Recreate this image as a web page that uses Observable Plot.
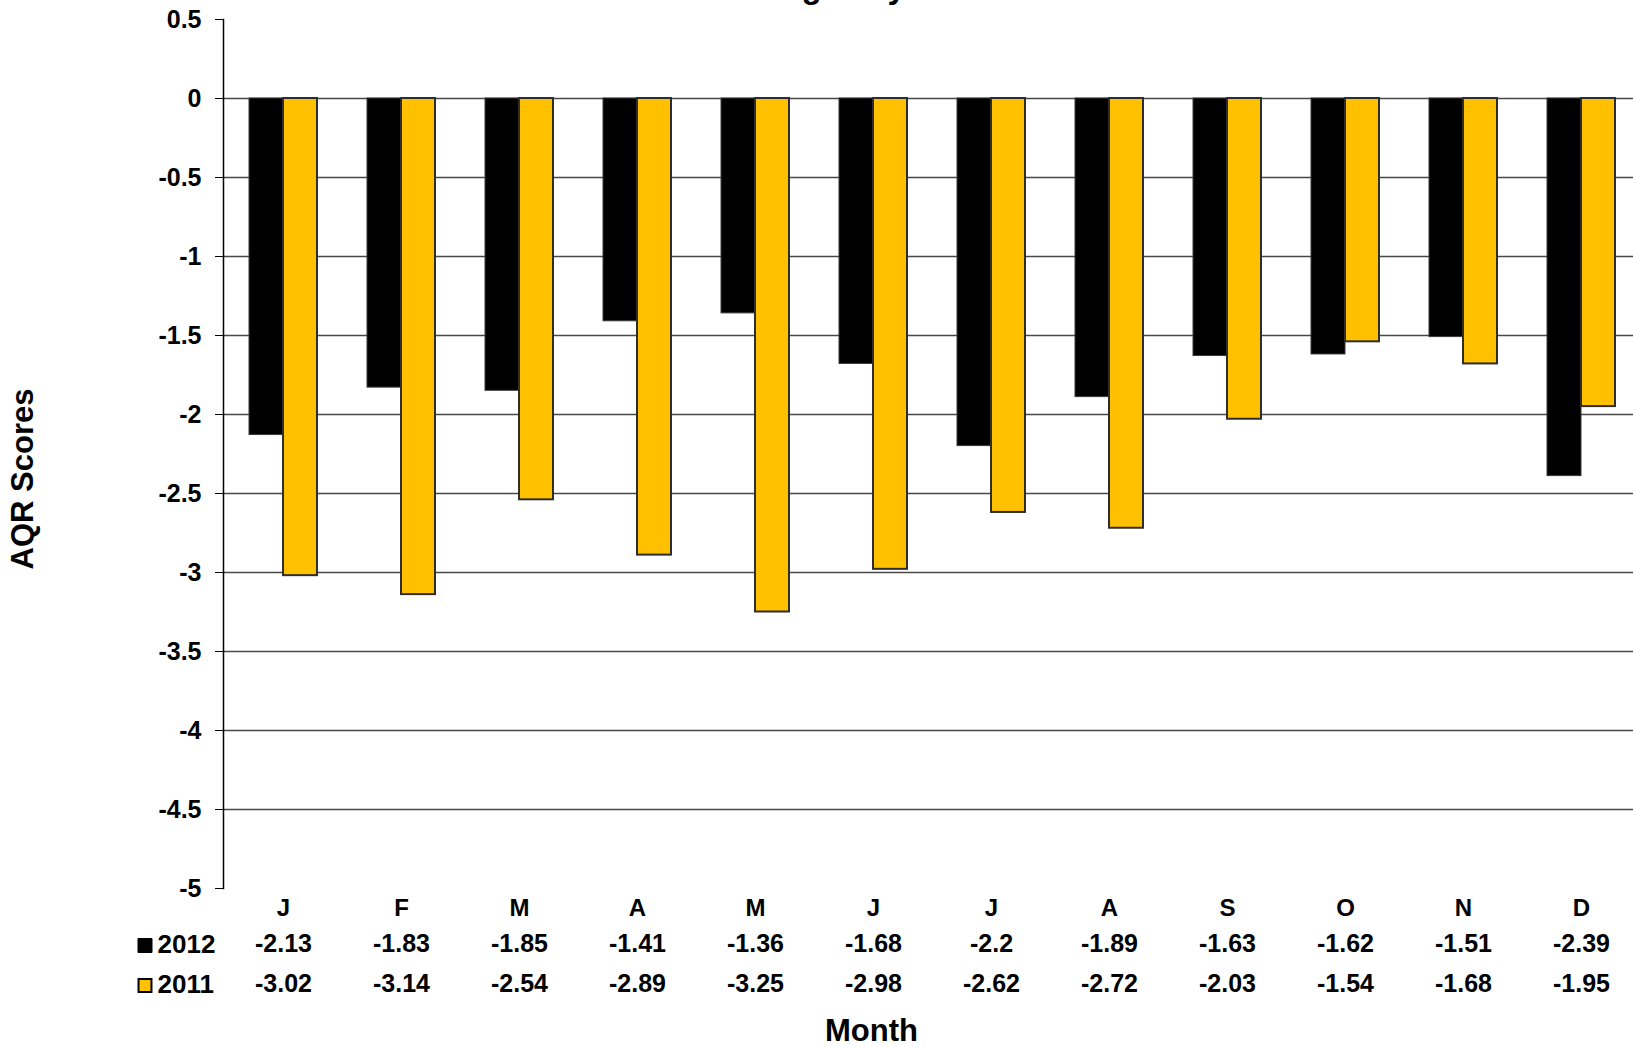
<!DOCTYPE html>
<html>
<head>
<meta charset="utf-8">
<script src="https://cdn.jsdelivr.net/npm/d3@7"></script>
<script src="https://cdn.jsdelivr.net/npm/@observablehq/plot@0.6"></script>
<style>
  html, body { margin: 0; padding: 0; background: #fff; overflow: hidden; }
  #chart { width: 1633px; height: 1047px; }
</style>
</head>
<body>
<div id="chart"></div>
<script>
// Monthly AQR scores, 2012 vs 2011
const months = ["J", "F", "M", "A", "M", "J", "J", "A", "S", "O", "N", "D"];
const scores2012 = [-2.13, -1.83, -1.85, -1.41, -1.36, -1.68, -2.2, -1.89, -1.63, -1.62, -1.51, -2.39];
const scores2011 = [-3.02, -3.14, -2.54, -2.89, -3.25, -2.98, -2.62, -2.72, -2.03, -1.54, -1.68, -1.95];
const seriesNames = ["2012", "2011"];
const yTicks = [0.5, 0, -0.5, -1, -1.5, -2, -2.5, -3, -3.5, -4, -4.5, -5];
const gridValues = [0, -0.5, -1, -1.5, -2, -2.5, -3, -3.5, -4, -4.5];
const titleText = "Changes by Month";
const yLabel = "AQR Scores";
const xLabel = "Month";

const color2012 = "#000000";
const color2011 = "#FFC000";
const outline = "#2e2e2e";

const idx = months.map((_, i) => i);

const chart = Plot.plot({
  width: 1633,
  height: 1047,
  marginTop: 19,
  marginBottom: 159,
  marginLeft: 223,
  marginRight: 0,
  style: "font: bold 25px 'Liberation Sans', Arial, sans-serif; color: #000; background: #fff;",
  x: { type: "band", domain: idx, range: [223, 1641], paddingInner: 0.4246, paddingOuter: 0.2123 },
  y: { domain: [-5, 0.5] },
  marks: [
    // horizontal gridlines
    Plot.ruleY(gridValues, { stroke: "#474747", strokeWidth: 1.6 }),
    // paired bars
    Plot.barY(idx, { x: (i) => i, y: (i) => scores2012[i], fill: color2012, stroke: "#3a3a3a", strokeWidth: 1, insetRight: 34 }),
    Plot.barY(idx, { x: (i) => i, y: (i) => scores2011[i], fill: color2011, stroke: outline, strokeWidth: 2, insetLeft: 34 }),
    // value axis line and ticks
    Plot.frame({ anchor: "left", stroke: "#000", strokeWidth: 1.5 }),
    Plot.axisY({ ticks: yTicks, tickSize: 8, tickPadding: 14, tickFormat: (d) => String(d), label: null, fontSize: 25 }),
    // data table under the bars
    Plot.axisX({ tickSize: 0, tickPadding: 10, tickFormat: (i) => months[i], label: null, fontSize: 24 }),
    Plot.axisX({ tickSize: 0, tickPadding: 46, tickFormat: (i) => String(scores2012[i]), label: null, fontSize: 25 }),
    Plot.axisX({ tickSize: 0, tickPadding: 86, tickFormat: (i) => String(scores2011[i]), label: null, fontSize: 25 }),
    // row keys
    Plot.dot([seriesNames[0]], { frameAnchor: "bottom-left", symbol: "square", r: 7.9, fill: color2012, stroke: color2012, strokeWidth: 1, dx: -78.5, dy: 57 }),
    Plot.dot([seriesNames[1]], { frameAnchor: "bottom-left", symbol: "square", r: 7.3, fill: color2011, stroke: "#000", strokeWidth: 2, dx: -78.5, dy: 97 }),
    Plot.text([seriesNames[0]], { text: (d) => d, frameAnchor: "bottom-left", textAnchor: "start", lineAnchor: "top", fontSize: 26, dx: -66, dy: 46 }),
    Plot.text([seriesNames[1]], { text: (d) => d, frameAnchor: "bottom-left", textAnchor: "start", lineAnchor: "top", fontSize: 26, dx: -66, dy: 86 }),
    // axis titles
    Plot.text([xLabel], { text: (d) => d, frameAnchor: "bottom", lineAnchor: "top", fontSize: 31, dx: -57, dy: 130 }),
    Plot.text([yLabel], { text: (d) => d, frameAnchor: "left", textAnchor: "middle", rotate: -90, fontSize: 31, dx: -200, dy: 25 }),
    // chart title
    Plot.text([titleText], { text: (d) => d, frameAnchor: "top", lineAnchor: "bottom", fontSize: 33, dx: -62, dy: -22 })
  ]
});

document.getElementById("chart").appendChild(chart);
</script>
</body>
</html>
